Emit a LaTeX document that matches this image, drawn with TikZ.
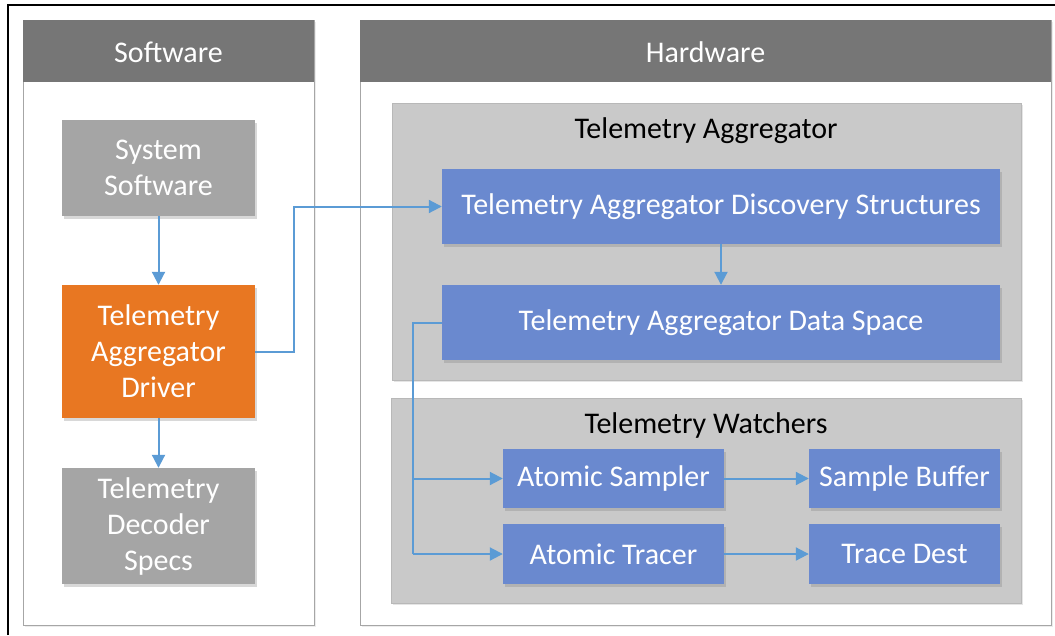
\documentclass[tikz,border=0pt]{standalone}
\usepackage{fontspec}
\setmainfont{Carlito}
\usetikzlibrary{shadows,arrows.meta}
\definecolor{hdr}{HTML}{767676}
\definecolor{swbox}{HTML}{A5A5A5}
\definecolor{orng}{HTML}{E87722}
\definecolor{blu}{HTML}{6A89CF}
\definecolor{lgray}{HTML}{C9C9C9}
\definecolor{arr}{HTML}{5B9BD5}
\definecolor{pborder}{HTML}{A6A6A6}
\begin{document}
\begin{tikzpicture}[x=1pt,y=-1pt,
  panel/.style={draw=pborder,line width=0.8pt,fill=white,
    drop shadow={shadow xshift=2pt,shadow yshift=-2pt,opacity=0.15}},
  header/.style={fill=hdr,text=white,font=\fontsize{30}{36}\selectfont},
  group/.style={draw=pborder!80,line width=0.6pt,fill=lgray,
    drop shadow={shadow xshift=2pt,shadow yshift=-2pt,opacity=0.2}},
  grouptitle/.style={text=black,font=\fontsize{30}{36}\selectfont},
  box/.style={draw=none,text=white,align=center,inner sep=0pt,
    font=\fontsize{30}{36}\selectfont,
    drop shadow={shadow xshift=2pt,shadow yshift=-3pt,opacity=0.3}},
  conn/.style={draw=arr,line width=2pt,-{Triangle[length=13pt,width=13pt]}},
  line/.style={draw=arr,line width=2pt}
]
\useasboundingbox (0,0) rectangle (1055,635);
% outer frame (left and top)
\draw[black,line width=1.2pt] (8,635) -- (8,5) -- (1055,5);
% panels
\draw[panel] (23,20) rectangle (314,625);
\fill[hdr] (23,20) rectangle (314,82);
\node[header] (swh) at (168.5,52) {Software};
\draw[panel] (360,20) rectangle (1051,625);
\fill[hdr] (360,20) rectangle (1051,82);
\node[header] (hwh) at (705.5,52) {Hardware};
% groups
\draw[group] (392,103) rectangle (1021,380);
\node[grouptitle] (tat) at (706,131) {Telemetry Aggregator};
\draw[group] (391,398) rectangle (1021,603);
\node[grouptitle] (twt) at (706,425) {Telemetry Watchers};
% software boxes
\node[box,fill=swbox,minimum width=193pt,minimum height=96pt] (sys) at (158.5,168) {System\\Software};
\node[box,fill=orng,minimum width=193pt,minimum height=133pt] (drv) at (158.5,351.5) {Telemetry\\Aggregator\\Driver};
\node[box,fill=swbox,minimum width=193pt,minimum height=116pt] (dec) at (158.5,526) {Telemetry\\Decoder\\Specs};
% hardware boxes
\node[box,fill=blu,minimum width=558pt,minimum height=75pt] (disc) at (721,206.5) {Telemetry Aggregator Discovery Structures};
\node[box,fill=blu,minimum width=558pt,minimum height=75pt] (data) at (721,322.5) {Telemetry Aggregator Data Space};
\node[box,fill=blu,minimum width=221pt,minimum height=59pt] (asamp) at (613.5,478.5) {Atomic Sampler};
\node[box,fill=blu,minimum width=191pt,minimum height=59pt] (sbuf) at (904.5,478.5) {Sample Buffer};
\node[box,fill=blu,minimum width=221pt,minimum height=60pt] (atrac) at (613.5,554) {Atomic Tracer};
\node[box,fill=blu,minimum width=191pt,minimum height=60pt] (tdest) at (904.5,554) {Trace Dest};
% connectors
\draw[conn] (sys) -- (drv);
\draw[conn] (drv) -- (dec);
\coordinate (j1) at (294,351.5);
\coordinate (j2) at (294,206.5);
\draw[conn] (drv.east) -- (j1) -- (j2) -- (disc.west);
\draw[conn] (disc) -- (data);
\coordinate (k1) at (413,322.5);
\coordinate (k2) at (413,478.5);
\coordinate (k3) at (413,554);
\draw[line] (data.west) -- (k1) -- (k3);
\draw[conn] (k2) -- (asamp.west);
\draw[conn] (k3) -- (atrac.west);
\draw[conn] (asamp) -- (sbuf);
\draw[conn] (atrac) -- (tdest);
\end{tikzpicture}
\end{document}
